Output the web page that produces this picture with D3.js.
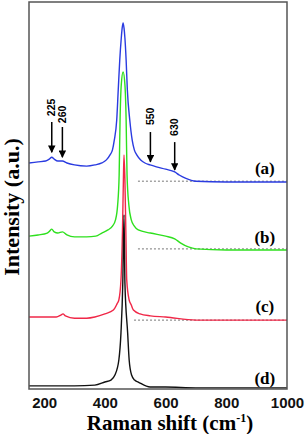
<!DOCTYPE html>
<html>
<head>
<meta charset="utf-8">
<script src="https://cdn.jsdelivr.net/npm/d3@7"></script>
<style>
  body { margin: 0; background: #fff; }
</style>
</head>
<body>
<div id="chart"></div>
<script>
// spectra: Raman shift (cm-1) and intensity (a.u., offset stacked)
var shiftA = [150,180,205,217,225,233,245,260,275,300,340,367,390,405,417,425,431,439,444,449,454,457,460,463,466,470,474,482,490,497,505,518,532,549,570,600,630,645,665,700,800,900,1000];
var intA   = [58.4,58.7,58.9,59.4,59.9,59.4,58.9,58.9,58.4,57.9,57.6,57.9,58.4,59.2,60.5,61.8,64.3,69.5,77.3,85.0,90.7,93.3,94.6,93.3,90.7,85.0,77.3,69.5,64.3,61.8,60.5,59.2,58.4,57.9,57.4,56.8,56.1,55.3,54.5,53.7,53.5,53.5,53.5];

var shiftB = [150,180,210,218,225,233,245,260,275,300,340,370,390,410,425,435,442,447,450,454,460,466,470,473,479,487,497,510,550,600,630,650,675,700,800,1000];
var intB   = [39.5,39.8,40.3,40.8,41.3,40.6,40.3,40.6,39.8,39.3,39.3,39.5,40.3,41.1,42.1,43.7,47.5,55.3,69.5,78.6,81.9,78.6,69.5,55.3,47.5,43.7,42.1,41.1,40.3,39.5,38.8,37.7,36.7,36.2,35.9,35.9];

var shiftC = [150,200,240,255,262,270,300,340,367,400,428,440,446,453,458,461,463,466,469,472,480,487,494,516,550,600,700,800,1000];
var intC   = [18.6,18.6,18.6,19.1,19.4,18.9,18.3,18.3,18.6,19.4,20.4,22.0,23.0,28.2,41.1,54.0,60.5,54.0,41.1,28.2,23.0,21.7,20.4,19.4,18.9,18.6,17.8,17.8,17.8];

var shiftD = [150,250,300,367,400,420,433,446,453,459,463,466,475,480,488,498,510,549,600,700,1000];
var intD   = [0.8,0.8,0.8,1.0,1.8,2.3,3.6,7.5,14.5,27.4,45.0,27.4,14.5,7.5,3.6,2.3,1.8,0.5,0.5,0.3,0.3];

var seriesNames  = ["(a)", "(b)", "(c)", "(d)"];
var seriesColors = ["#2a3be0", "#2ee01e", "#f02848", "#111111"];
var labelLevel   = [55.6, 37.7, 19.9, 1.3];

// grey dotted baselines under (a), (b), (c)
var dashStart = [509, 509, 496];
var dashLevel = [53.7, 36.2, 17.8];

// marked bands
var annShift  = [225, 260, 550, 630];
var annLabel  = ["225", "260", "550", "630"];
var annTextAt = [70.5, 68.7, 68.2, 65.4];
var annFrom   = [69.0, 67.7, 66.4, 63.8];
var annTo     = [61.2, 59.9, 58.7, 56.6];

var xTicks = [200, 400, 600, 800, 1000];

var margin = {top: 2, right: 20, bottom: 45, left: 29},
    width = 307 - margin.left - margin.right,
    height = 434 - margin.top - margin.bottom;

var svg = d3.select("#chart")
  .append("svg")
    .attr("width", 307)
    .attr("height", 434)
  .append("g")
    .attr("transform", "translate(" + margin.left + "," + margin.top + ")");

var x = d3.scaleLinear().domain([150, 1000]).range([0, width]);
var y = d3.scaleLinear().domain([0, 100]).range([height, 0]);

// marker for the arrows
svg.append("defs").append("marker")
    .attr("id", "arr")
    .attr("viewBox", "0 0 10 10")
    .attr("refX", 9).attr("refY", 5)
    .attr("markerWidth", 5.5).attr("markerHeight", 5)
    .attr("markerUnits", "strokeWidth")
    .attr("orient", "auto")
  .append("path")
    .attr("d", "M0,0 L10,5 L0,10 z")
    .attr("fill", "#000");

// X axis, no tick marks
var xAxis = svg.append("g")
    .attr("transform", "translate(0," + height + ")")
    .call(d3.axisBottom(x).tickValues(xTicks).tickFormat(d3.format("d")).tickSize(0).tickPadding(8));
xAxis.select(".domain").remove();
xAxis.selectAll("text")
    .attr("font-family", "Liberation Sans, Arial, sans-serif")
    .attr("font-weight", "bold")
    .attr("font-size", 15)
    .attr("fill", "#111");

// dotted baselines
dashStart.forEach(function(s, i) {
  svg.append("line")
    .attr("x1", x(s)).attr("x2", x(1000))
    .attr("y1", y(dashLevel[i])).attr("y2", y(dashLevel[i]))
    .attr("stroke", "#777")
    .attr("stroke-width", 1)
    .attr("stroke-dasharray", "2,2");
});

// spectra
var shifts = [shiftA, shiftB, shiftC, shiftD];
var ints = [intA, intB, intC, intD];
var line = d3.line()
    .x(function(d) { return x(d[0]); })
    .y(function(d) { return y(d[1]); })
    .curve(d3.curveMonotoneX);

shifts.forEach(function(s, i) {
  svg.append("path")
    .datum(d3.zip(s, ints[i]))
    .attr("fill", "none")
    .attr("stroke", seriesColors[i])
    .attr("stroke-width", 1.4)
    .attr("d", line);

  svg.append("text")
    .attr("x", x(927))
    .attr("y", y(labelLevel[i]))
    .attr("text-anchor", "middle")
    .attr("font-family", "Liberation Serif, Times New Roman, serif")
    .attr("font-weight", "bold")
    .attr("font-size", 17)
    .text(seriesNames[i]);
});

// arrows + band labels
annShift.forEach(function(s, i) {
  svg.append("line")
    .attr("x1", x(s)).attr("x2", x(s))
    .attr("y1", y(annFrom[i])).attr("y2", y(annTo[i]))
    .attr("stroke", "#000")
    .attr("stroke-width", 1.5)
    .attr("marker-end", "url(#arr)");

  svg.append("text")
    .attr("transform", "translate(" + x(s) + "," + y(annTextAt[i]) + ") rotate(-90)")
    .attr("dy", "0.35em")
    .attr("font-family", "Liberation Sans, Arial, sans-serif")
    .attr("font-weight", "bold")
    .attr("font-size", 10.5)
    .text(annLabel[i]);
});

// frame
svg.append("rect")
    .attr("width", width)
    .attr("height", height)
    .attr("fill", "none")
    .attr("stroke", "#555")
    .attr("stroke-width", 1.5);

// axis titles
var xt = svg.append("text")
    .attr("x", width / 2 + 12)
    .attr("y", height + 41)
    .attr("text-anchor", "middle")
    .attr("font-family", "Liberation Serif, Times New Roman, serif")
    .attr("font-weight", "bold")
    .attr("font-size", 21);
xt.append("tspan").text("Raman shift (cm");
xt.append("tspan").attr("dy", -8).attr("font-size", 12).text("-1");
xt.append("tspan").attr("dy", 8).text(")");

svg.append("text")
    .attr("transform", "rotate(-90)")
    .attr("x", -205)
    .attr("y", -margin.left + 19)
    .attr("text-anchor", "middle")
    .attr("font-family", "Liberation Serif, Times New Roman, serif")
    .attr("font-weight", "bold")
    .attr("font-size", 22)
    .text("Intensity (a.u.)");
</script>
</body>
</html>
